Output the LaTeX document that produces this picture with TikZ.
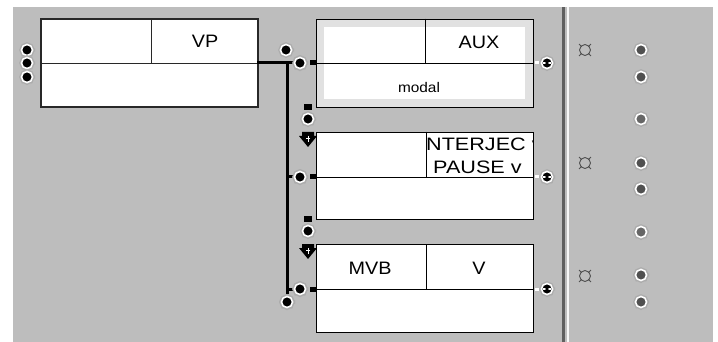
\documentclass[tikz,border=0pt]{standalone}
\usepackage{fontspec}
\setmainfont{Liberation Sans}
\usetikzlibrary{positioning, calc}
\usetikzlibrary{arrows.meta}
\definecolor{panel}{RGB}{189,189,189}
\definecolor{rim}{RGB}{225,225,225}
\definecolor{frame}{RGB}{40,40,40}
\definecolor{dotgray}{RGB}{80,80,80}

\tikzset{
  conn/.style={circle, fill=black, minimum size=11pt, inner sep=0pt,
    preaction={draw=gray!65, line width=4.4pt, dash pattern=on 2.5pt off 1.2pt},
    draw=white, line width=1.6pt},
  outconn/.style={conn, path picture={
    \fill[white] ($(path picture bounding box.center)+(-4,-0.8)$) rectangle ++(8,1.6);
    \fill[black] (path picture bounding box.center) circle (1.8);}},
  slot/.style={conn, fill=dotgray},
  hslot/.style={conn, fill=gray!80!black},
  cell/.style={font=\fontsize{18}{19}\selectfont\addfontfeature{FakeStretch=1.1}, inner sep=0pt},
  widecell/.style={font=\fontsize{18}{19}\selectfont\addfontfeature{FakeStretch=1.2}, inner sep=0pt},
  stub/.style={fill=black},
}

\begin{document}
\begin{tikzpicture}[x=1pt,y=-1pt, line cap=rect, >=Stealth]
  \useasboundingbox (0,0) rectangle (718,342);

  %--- sfondo
  \fill[white] (0,0) rectangle (718,342);
  \fill[panel] (13,7) rectangle (713,342);
  \fill[gray!75!black] (562,7) rectangle (564.5,342);
  \fill[white!90!panel] (566.5,7) rectangle (568.5,342);

  %--- VP box
  \draw[frame, line width=2.2pt, fill=white] (41,19) rectangle (258,107);
  \draw[frame, line width=0.8pt] (41,63) -- (258,63) (151,19) -- (151,63);
  \node[cell] (vp) at (205,41) {VP};
  \node[conn] (vpa) at (27,50) {};
  \node[conn] (vpb) at (27,63) {};
  \node[conn] (vpc) at (27,77) {};
  \node[conn] (vpo) at (286,50) {};

  %--- AUX box
  \draw[black, line width=0.8pt, fill=rim] (316,19) rectangle (533,107);
  \fill[white] (324,27) rectangle (525,99);
  \draw[black, line width=0.8pt] (316,63) -- (533,63) (425,19) -- (425,63);
  \node[cell] (aux) at (479,42) {AUX};
  \node[font=\fontsize{14}{15}\selectfont\addfontfeature{FakeStretch=1.1}, inner sep=0pt] (modal) at (419,87) {modal};

  %--- INTERJEC box
  \draw[black, line width=0.8pt, fill=white] (316,132) rectangle (533,219);
  \draw[black, line width=0.8pt] (316,177) -- (533,177) (426,132) -- (426,177);
  \begin{scope}
    \clip (426.5,132.5) rectangle (533,176.5);
    \node[widecell, anchor=west] (interj) at (426,144) {NTERJEC v};
    \node[widecell, anchor=west] (pause) at (433,167) {PAUSE v};
  \end{scope}

  %--- MVB box
  \draw[black, line width=0.8pt, fill=white] (316,244) rectangle (533,332);
  \draw[black, line width=0.8pt] (316,289) -- (533,289) (426,244) -- (426,289);
  \node[cell] (mvb) at (370,268) {MVB};
  \node[cell] (v) at (479,268) {V};

  %--- ingressi
  \node[conn] (auxin) at (300,63) {};
  \node[conn] (intin) at (300,177) {};
  \node[conn] (mvbin) at (300,289) {};
  \node[conn] (mvbx) at (287,302) {};
  \foreach \y in {63,177,289}
    \fill[stub] (310,\y-2.5) rectangle (316,\y+2.5);

  %--- linea di collegamento
  \draw[line width=3pt] (258,63) -- (287,63) -- (287,292);
  \draw[line width=3pt] (287,63) -- (auxin);
  \draw[line width=3pt] (287,177) -- (intin);
  \draw[line width=3pt] (287,289) -- (mvbin);
  \node[conn] at (auxin) {};
  \node[conn] at (intin) {};
  \node[conn] at (mvbin) {};
  \node[conn] at (mvbx) {};

  %--- frecce fra i box
  \foreach \y/\n in {107/ia, 219/ib}{
    \fill[stub] (304,\y-3) rectangle (312,\y+3);
    \node[conn] (\n) at (308,\y+12) {};
    \fill[black] (302,\y+25) -- (314,\y+25) -- (314,\y+29) -- (317,\y+29)
      -- (308,\y+40) -- (299,\y+29) -- (302,\y+29) -- cycle;
    \draw[white, line width=0.7pt] (308,\y+29) -- (308,\y+35) (306,\y+31) -- (310,\y+31);
  }

  %--- uscite
  \foreach \y/\n in {63/auxout, 177/intout, 289/mvbout}{
    \fill[white] (535,\y-1.5) rectangle (539,\y+1.5);
    \node[outconn] (\n) at (547,\y) {};
  }

  %--- pannello destro
  \foreach \y in {50,163,276}{
    \draw[dotgray, line width=0.9pt] (585,\y) circle (5.5);
    \foreach \a in {45,135,225,315}
      \draw[dotgray, line width=0.9pt] ($(585,\y)+(\a:5)$) -- ($(585,\y)+(\a:8)$);
  }
  \foreach \y/\n in {50/sa, 77/sb, 163/sc, 189/sd, 275/se, 302/sf}
    \node[slot] (\n) at (641,\y) {};
  \node[hslot] (sh1) at (641,119) {};
  \node[hslot] (sh2) at (641,232) {};
\end{tikzpicture}
\end{document}
